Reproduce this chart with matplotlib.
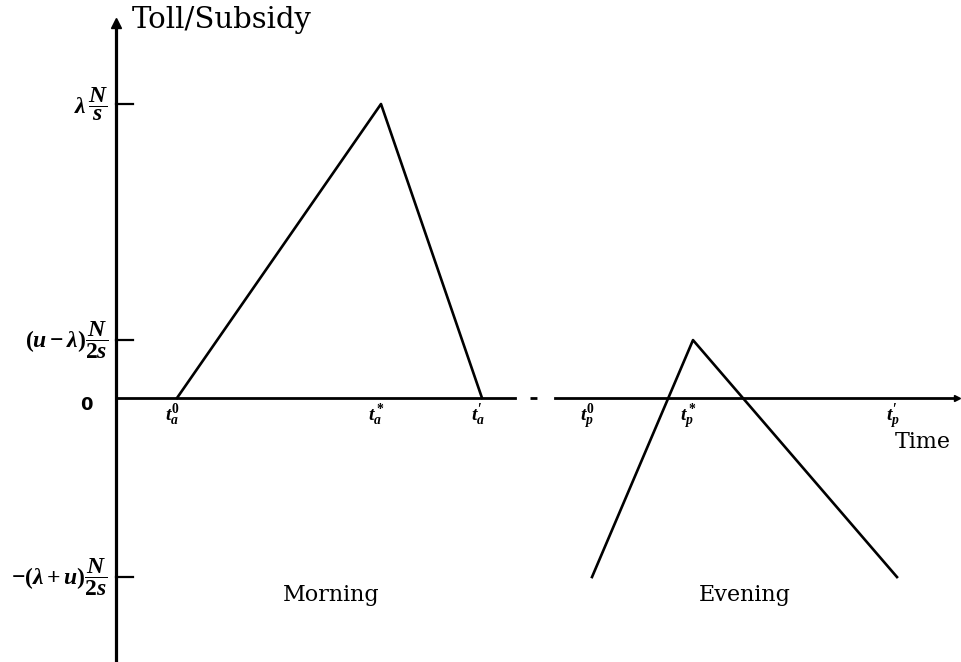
import matplotlib
matplotlib.use('Agg')
import matplotlib.pyplot as plt

plt.rcParams['mathtext.fontset'] = 'custom'
plt.rcParams['mathtext.rm'] = 'Liberation Serif:bold'
plt.rcParams['mathtext.it'] = 'Liberation Serif:italic:bold'
plt.rcParams['mathtext.bf'] = 'Liberation Serif:bold'

# --- toll profile (time in arbitrary units, toll scaled so lambda*N/s = 1) ---
morning_t = [0.61, 2.65, 3.66]
morning_toll = [0.0, 1.0, 0.0]
evening_t = [4.76, 5.77, 7.81]
evening_toll = [-0.609, 0.197, -0.609]

morning_ticks = [r'$t_a^0$', r'$t_a^*$', r"$t_a^{\prime}$"]
evening_ticks = [r'$t_p^0$', r'$t_p^*$', r"$t_p^{\prime}$"]

level_vals = [1.0, 0.197, 0.0, -0.609]
level_labels = [r'$\lambda\,\dfrac{N}{s}$', r'$(u-\lambda)\dfrac{N}{2s}$',
                '0', r'$-(\lambda+u)\dfrac{N}{2s}$']

W, H = 962, 662
fig = plt.figure(figsize=(W / 100, H / 100), dpi=100)
ax = fig.add_axes([0, 0, 1, 1])
ax.set_xlim(-1.16, 8.46)
ax.set_ylim(-264 / 294, (H - 264) / 294)
ax.axis('off')

# axes
y_top = 1.27
ax.plot([0, 0], [-0.9, y_top], color='black', lw=2.3, solid_capstyle='butt')
ax.plot([0], [y_top + 0.005], marker='^', color='black', ms=7)
ax.plot([0, 3.99], [0, 0], color='black', lw=2.0)
ax.plot([4.14, 4.39], [0, 0], color='black', lw=2.0, dashes=(2.5, 9))
ax.plot([4.39, 8.40], [0, 0], color='black', lw=2.0)
ax.plot([8.41], [0], marker='>', color='black', ms=5)

# level ticks and labels
for v, lab in zip(level_vals, level_labels):
    if v != 0:
        ax.plot([0, 0.17], [v, v], color='black', lw=1.6)
        ax.text(-0.08, v, lab, ha='right', va='center', fontsize=17)
    else:
        ax.text(-0.30, v - 0.025, lab, ha='center', va='center', fontsize=13,
                family='DejaVu Sans', fontweight='bold')

# toll curves
ax.plot(morning_t, morning_toll, color='black', lw=1.9)
ax.plot(evening_t, evening_toll, color='black', lw=1.9)

for t, lab in zip(morning_t + evening_t, morning_ticks + evening_ticks):
    ax.annotate(lab, (t, 0), xytext=(-3, -3), textcoords='offset points',
                ha='center', va='top', fontsize=14)

ax.text(1.06, 1.285, 'Toll/Subsidy', ha='center', va='center', fontsize=21,
        family='DejaVu Serif')
ax.text(8.07, -0.15, 'Time', ha='center', va='center', fontsize=16,
        family='DejaVu Serif')
ax.text(2.15, -0.67, 'Morning', ha='center', va='center', fontsize=16,
        family='DejaVu Serif')
ax.text(6.29, -0.67, 'Evening', ha='center', va='center', fontsize=16,
        family='DejaVu Serif')

fig.savefig('out.png', dpi=100, facecolor='white')
